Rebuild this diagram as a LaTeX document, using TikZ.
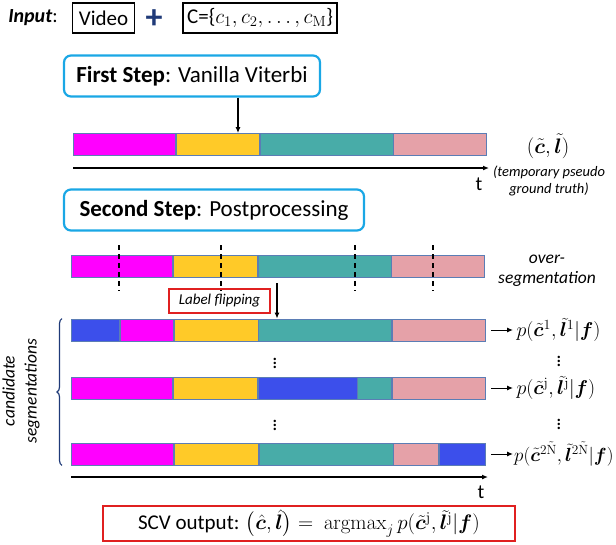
\RequirePackage{fix-cm}
\documentclass[tikz,border=0pt]{standalone}
\usepackage{amsmath,bm}
\usepackage[no-math]{fontspec}
\setmainfont{Carlito}
\usetikzlibrary{arrows.meta,decorations.pathreplacing}

\definecolor{magC}{HTML}{FF00FF}
\definecolor{yelC}{HTML}{FFCA28}
\definecolor{tealC}{HTML}{48ACA8}
\definecolor{pinkC}{HTML}{E5A1A8}
\definecolor{blueC}{HTML}{3C4FEB}
\definecolor{barC}{HTML}{5B7DB5}
\definecolor{stepC}{HTML}{1AA7E5}
\definecolor{redC}{HTML}{E02020}
\definecolor{navyC}{HTML}{1F3A78}

\newcommand{\fsz}[2]{\fontsize{#1}{#2}\selectfont}

\tikzset{
  seg/.style={draw=barC, line width=0.8pt, minimum height=22pt, inner sep=0pt, anchor=west},
  stepbox/.style={draw=stepC, line width=2.2pt, rounded corners=7pt, inner sep=0pt, minimum height=41pt},
  inbox/.style={draw, line width=1.2pt, inner sep=0pt, minimum height=30pt},
  cut/.style={line width=1.1pt, dash pattern=on 5pt off 4pt},
  arr/.style={-{Latex[length=6pt,width=5pt]}, line width=1.2pt},
  plab/.style={anchor=west, font=\fsz{20}{24}}
}

\begin{document}
\begin{tikzpicture}[x=1pt, y=-1pt]
  \useasboundingbox (0,0) rectangle (616,544);

  % input line
  \node[font=\fsz{20}{24}] (input) at (33,18) {\textbf{\textit{Input}}:};
  \node[inbox, minimum width=62pt, font=\fsz{21}{25}] (video) at (103.5,18) {Video};
  \node[text=navyC, font=\fsz{34}{34}\bfseries] (plus) at (154,19) {+};
  \node[inbox, minimum width=154pt, font=\fsz{21}{25}] (cls) at (260,18) {C=\{$c_1, c_2, \ldots, c_{\mathrm{M}}$\}};

  % first step
  \node[stepbox, minimum width=256pt, font=\fsz{23}{27}] (step1) at (192,76) {\textbf{First Step}: Vanilla Viterbi};

  \node[seg, fill=magC,  minimum width=102pt] (b1a) at (73,144.5) {};
  \node[seg, fill=yelC,  minimum width=83pt]  (b1b) at (b1a.east) {};
  \node[seg, fill=tealC, minimum width=133pt] (b1c) at (b1b.east) {};
  \node[seg, fill=pinkC, minimum width=93pt]  (b1d) at (b1c.east) {};

  \coordinate (a1) at (238,0);
  \draw[arr] (step1.south -| a1) -- (b1b.north -| a1);

  \node[font=\fsz{21}{25}] (gt) at (548,146) {$(\tilde{\bm c},\tilde{\bm l})$};
  \coordinate (t1s) at (73,168);
  \coordinate (t1e) at (489,168);
  \draw[arr] (t1s) -- (t1e);
  \node[font=\fsz{20}{24}] (t1) at (479,184) {t};
  \node[font=\fsz{14.5}{16.5}\itshape, align=center] (pgt) at (549,181) {(temporary pseudo\\ground truth)};

  % second step
  \node[stepbox, minimum width=300pt, font=\fsz{23}{27}] (step2) at (214,210) {\textbf{Second Step}: Postprocessing};

  \node[seg, fill=magC,  minimum width=101pt] (os1) at (71,266) {};
  \node[seg, fill=yelC,  minimum width=84pt]  (os2) at (os1.east) {};
  \node[seg, fill=tealC, minimum width=133pt] (os3) at (os2.east) {};
  \node[seg, fill=pinkC, minimum width=93pt]  (os4) at (os3.east) {};

  \draw[cut] (119,245) -- (119,291);
  \draw[cut] (221,245) -- (221,291);
  \draw[cut] (355,245) -- (355,291);
  \draw[cut] (433,245) -- (433,291);

  \node[font=\fsz{17.5}{20}\itshape, align=center] (ovs) at (547,271) {over-\\segmentation};

  \node[draw=redC, line width=1.8pt, minimum width=101pt, minimum height=24pt, inner sep=0pt,
        font=\fsz{15}{18}\itshape] (flip) at (219.5,301) {Label flipping};

  % candidate segmentations
  \node[seg, fill=blueC, minimum width=48pt]  (cA1) at (71,330) {};
  \node[seg, fill=magC,  minimum width=53pt]  (cA2) at (cA1.east) {};
  \node[seg, fill=yelC,  minimum width=84pt]  (cA3) at (cA2.east) {};
  \node[seg, fill=tealC, minimum width=133pt] (cA4) at (cA3.east) {};
  \node[seg, fill=pinkC, minimum width=93pt]  (cA5) at (cA4.east) {};

  \node[seg, fill=magC,  minimum width=101pt] (cB1) at (71,388) {};
  \node[seg, fill=yelC,  minimum width=84pt]  (cB2) at (cB1.east) {};
  \node[seg, fill=blueC, minimum width=99pt]  (cB3) at (cB2.east) {};
  \node[seg, fill=tealC, minimum width=34pt]  (cB4) at (cB3.east) {};
  \node[seg, fill=pinkC, minimum width=93pt]  (cB5) at (cB4.east) {};

  \node[seg, fill=magC,  minimum width=102pt] (cC1) at (71,454) {};
  \node[seg, fill=yelC,  minimum width=84pt]  (cC2) at (cC1.east) {};
  \node[seg, fill=tealC, minimum width=134pt] (cC3) at (cC2.east) {};
  \node[seg, fill=pinkC, minimum width=45pt]  (cC4) at (cC3.east) {};
  \node[seg, fill=blueC, minimum width=46pt]  (cC5) at (cC4.east) {};

  \coordinate (a2) at (277,0);
  \draw[arr, shorten <=6pt] (os3.south -| a2) -- (cA4.north -| a2);

  \node[font=\fsz{20}{20}] (d1) at (275,360) {$\vdots$};
  \node[font=\fsz{20}{20}] (d2) at (275,422) {$\vdots$};
  \node[font=\fsz{20}{20}] (d3) at (559,358) {$\vdots$};
  \node[font=\fsz{20}{20}] (d4) at (559,421) {$\vdots$};

  \node[plab] (pA) at (513,330) {$p(\tilde{\bm c}^{1},\tilde{\bm l}^{1}|\bm f)$};
  \node[plab] (pB) at (513,388) {$p(\tilde{\bm c}^{\mathrm{j}},\tilde{\bm l}^{\mathrm{j}}|\bm f)$};
  \node[plab, inner xsep=1pt, font=\fsz{19}{23}] (pC) at (513,454) {$p(\tilde{\bm c}^{2\tilde{\mathrm{N}}},\tilde{\bm l}^{2\tilde{\mathrm{N}}}|\bm f)$};
  \draw[arr, line width=1pt, shorten <=5pt] (cA5.east) -- (pA.west);
  \draw[arr, line width=1pt, shorten <=5pt] (cB5.east) -- (pB.west);
  \draw[arr, line width=1pt, shorten <=5pt] (cC5.east) -- (pC.west);

  \draw[navyC, line width=1.2pt, decorate, decoration={brace, amplitude=5pt}]
    ([xshift=-9pt]cC1.south west) -- ([xshift=-9pt]cA1.north west);
  \node[rotate=90, font=\fsz{17.5}{22}\itshape, align=center] (cand) at (21,391) {candidate\\segmentations};

  \coordinate (t2s) at (71,477);
  \coordinate (t2e) at (488,477);
  \draw[arr] (t2s) -- (t2e);
  \node[font=\fsz{20}{24}] (t2) at (481,492) {t};

  % output
  \node[draw=redC, line width=1.8pt, minimum width=412pt, minimum height=35pt, inner sep=0pt,
        font=\fsz{21}{25}] (scv) at (309,523.5)
    {SCV output: $\bigl(\hat{\bm c},\hat{\bm l}\bigr) =\ \mathrm{argmax}_j\, p(\tilde{\bm c}^{\mathrm{j}},\tilde{\bm l}^{\mathrm{j}}|\bm f)$};
\end{tikzpicture}
\end{document}
